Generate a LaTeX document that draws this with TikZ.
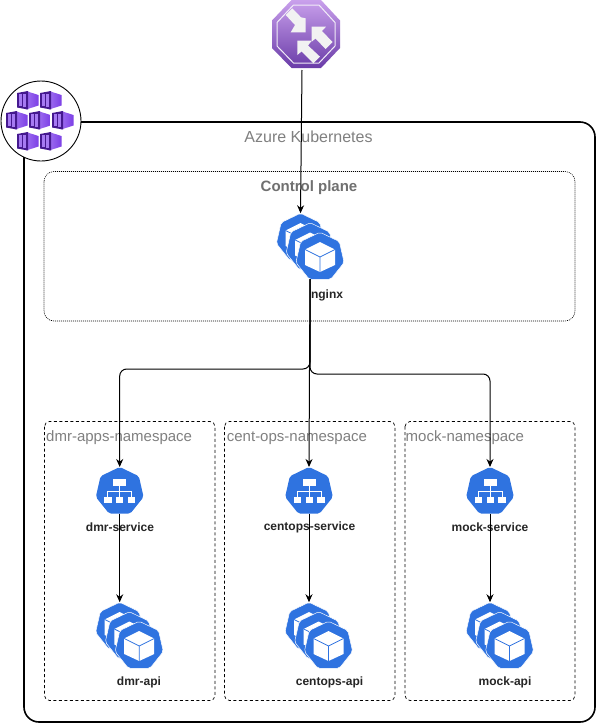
\documentclass[tikz,border=0pt]{standalone}
\usepackage{fontspec}
\setmainfont{Liberation Sans}
\usetikzlibrary{shapes.geometric,arrows.meta}
\definecolor{kube}{HTML}{2F73E0}
\definecolor{grayt}{HTML}{808080}
\definecolor{grayb}{HTML}{707070}
\definecolor{pdark}{HTML}{45198F}
\definecolor{plight}{HTML}{7C3FE6}
\definecolor{pmid}{HTML}{A67AF2}
\definecolor{octtop}{HTML}{C9A0EC}
\definecolor{octmid}{HTML}{8A5FC0}
\definecolor{octbot}{HTML}{6A3CA8}
\tikzset{
  kubeicon/.style={regular polygon,regular polygon sides=7,minimum size=49.5pt,inner sep=0pt,outer sep=0pt,fill=kube,draw=white,line width=.5pt,rounded corners=2pt},
  svcicon/.style={kubeicon,draw=none,minimum size=49pt},
  conn/.style={draw=black,line width=1pt,-{Stealth[length=8pt,width=7pt]},rounded corners=7pt},
  lbl/.style={font=\bfseries\fontsize{12}{14}\selectfont,text=black!85,inner sep=0pt},
  nslabel/.style={font=\fontsize{15}{17}\selectfont,text=grayt,inner sep=0pt},
  nsbox/.style={draw=black,line width=.7pt,dash pattern=on 3pt off 2.5pt,rounded corners=5pt},
  cpbox/.style={draw=black,line width=.6pt,dash pattern=on 1pt off 1pt,rounded corners=10pt},
}
\newcommand{\cubemark}[1]{%
  \begin{scope}[shift={(#1.center)}]
    \fill[white] (0,-15)--(15,-7.5)--(15,8)--(0,15)--(-15,8)--(-15,-7.5)--cycle;
    \draw[kube,line width=.8pt] (-15,-7.5)--(0,0)--(15,-7.5) (0,0)--(0,15);
  \end{scope}}
\newcommand{\stackicon}[3]{%
  \node[kubeicon] (#1a) at (#2,#3) {};\cubemark{#1a}
  \node[kubeicon] (#1b) at (#2+9.7,#3+9.5) {};\cubemark{#1b}
  \node[kubeicon] (#1c) at (#2+19.5,#3+19) {};\cubemark{#1c}
}
\newcommand{\svcmark}[1]{%
  \begin{scope}[shift={(#1.center)}]
    \fill[white] (-6.5,-12.5) rectangle (6.5,-5.5);
    \fill[white] (-15.5,5) rectangle (-8,11);
    \fill[white] (-3.5,5) rectangle (3.5,11);
    \fill[white] (8,5) rectangle (15.5,11);
    \draw[white,line width=.8pt] (0,-5.5)--(0,5) (-12,5)--(-12,0)--(12,0)--(12,5);
  \end{scope}}
\newcommand{\akscube}[2]{%
  \begin{scope}[shift={(#1,#2)}]
    \shade[left color=pmid!80!plight,right color=plight] (9,0)--(21.5,4)--(21.5,14.5)--(9,18.5)--cycle;
    \fill[pdark] (0,2)--(11,0)--(11,18.5)--(0,16.5)--cycle;
    \fill[pmid] (1.6,3.4) rectangle (4.8,15.2);
    \fill[pmid] (6.1,2.8) rectangle (9.4,15.8);
  \end{scope}}
\begin{document}
\begin{tikzpicture}[x=1pt,y=-1pt]
\useasboundingbox (0,0) rectangle (596,723);
\fill[white] (0,0) rectangle (596,723);

% outer cluster
\draw[black,line width=1.6pt,rounded corners=15pt] (24,122) rectangle (595,722);
\node[font=\fontsize{16}{18}\selectfont,text=grayt,inner sep=0pt] (title) at (308.5,136.5) {Azure Kubernetes};

% control plane
\draw[cpbox] (44,171.5) rectangle (575,321);
\node[font=\bfseries\fontsize{15}{17}\selectfont,text=grayb,inner sep=0pt] (cptitle) at (309,188) {Control plane};

% namespaces
\draw[nsbox] (44.5,421.5) rectangle (215,700.5);
\draw[nsbox] (224.5,421.5) rectangle (395,700.5);
\draw[nsbox] (405,421.5) rectangle (575,700.5);
\node[nslabel,anchor=west] (ns1) at (46,438) {dmr-apps-namespace};
\node[nslabel,anchor=west] (ns2) at (226.7,438) {cent-ops-namespace};
\node[nslabel,anchor=west] (ns3) at (405.5,438) {mock-namespace};

% AKS badge
\node[circle,draw=black,fill=white,line width=.9pt,minimum size=80pt,inner sep=0pt] (aks) at (41,121) {};
\akscube{17}{91}\akscube{40}{91}
\akscube{6}{111}\akscube{29}{111}\akscube{52}{111}
\akscube{17}{132}\akscube{40}{132}

% gateway octagon
\shade[top color=octtop,middle color=octmid,bottom color=octbot]
  (291.5,0)--(321,0)--(340,20.5)--(340,48)--(321,68)--(291.5,68)--(272,48)--(272,20.5)--cycle;
\draw[white!88!octmid,line width=1pt] (293.5,5)--(319,5)--(335,22.5)--(335,46)--(319,63)--(293.5,63)--(277,46)--(277,22.5)--cycle;
\fill[white!95!black] (285.7,15)--(292.3,8.3)--(301,17.3)--(305.7,18.3)--(305.7,32.3)--(290.7,32.3)--(295,25)--cycle;
\fill[white!95!black] (311.7,26.7)--(326,26.7)--(322,31)--(332.5,42)--(325.5,49)--(315.5,38.5)--(311.7,41.7)--cycle;
\fill[white!95!black] (297.3,40.7)--(311.7,40.7)--(308,45.5)--(320,56.7)--(313.3,63.3)--(301.5,51.5)--(297.3,55)--cycle;

% nginx
\stackicon{ngx}{300.5}{238}
\node[lbl] (ngxl) at (327,295) {nginx};
\coordinate (ngxout) at (310,279);

% services
\node[svcicon] (svcA) at (119.7,491.5) {};\svcmark{svcA}
\node[svcicon] (svcB) at (309,491.5) {};\svcmark{svcB}
\node[svcicon] (svcC) at (490,491.5) {};\svcmark{svcC}
\node[lbl] (svcAl) at (120,527.5) {dmr-service};
\node[lbl] (svcBl) at (309.5,527.5) {centops-service};
\node[lbl] (svcCl) at (490,527.5) {mock-service};

% apis
\stackicon{apiA}{119.7}{627}
\stackicon{apiB}{309}{627}
\stackicon{apiC}{490}{627}
\node[lbl] (apiAl) at (139,682) {dmr-api};
\node[lbl] (apiBl) at (329.5,682) {centops-api};
\node[lbl] (apiCl) at (505,682) {mock-api};

% connectors
\coordinate (gwout) at (302,70);
\draw[conn] (gwout) -- (ngxa.north);
\draw[conn] (ngxout) -- (310,369) -- (svcA.north |- 0,369) -- (svcA.north);
\draw[conn] (ngxout) -- (309.5,369) -- (svcB.north);
\draw[conn] (ngxout) -- (310,374) -- (svcC.north |- 0,374) -- (svcC.north);
\draw[conn] (svcA.south) -- (apiAa.north);
\draw[conn] (svcB.south) -- (apiBa.north);
\draw[conn] (svcC.south) -- (apiCa.north);
\end{tikzpicture}
\end{document}
